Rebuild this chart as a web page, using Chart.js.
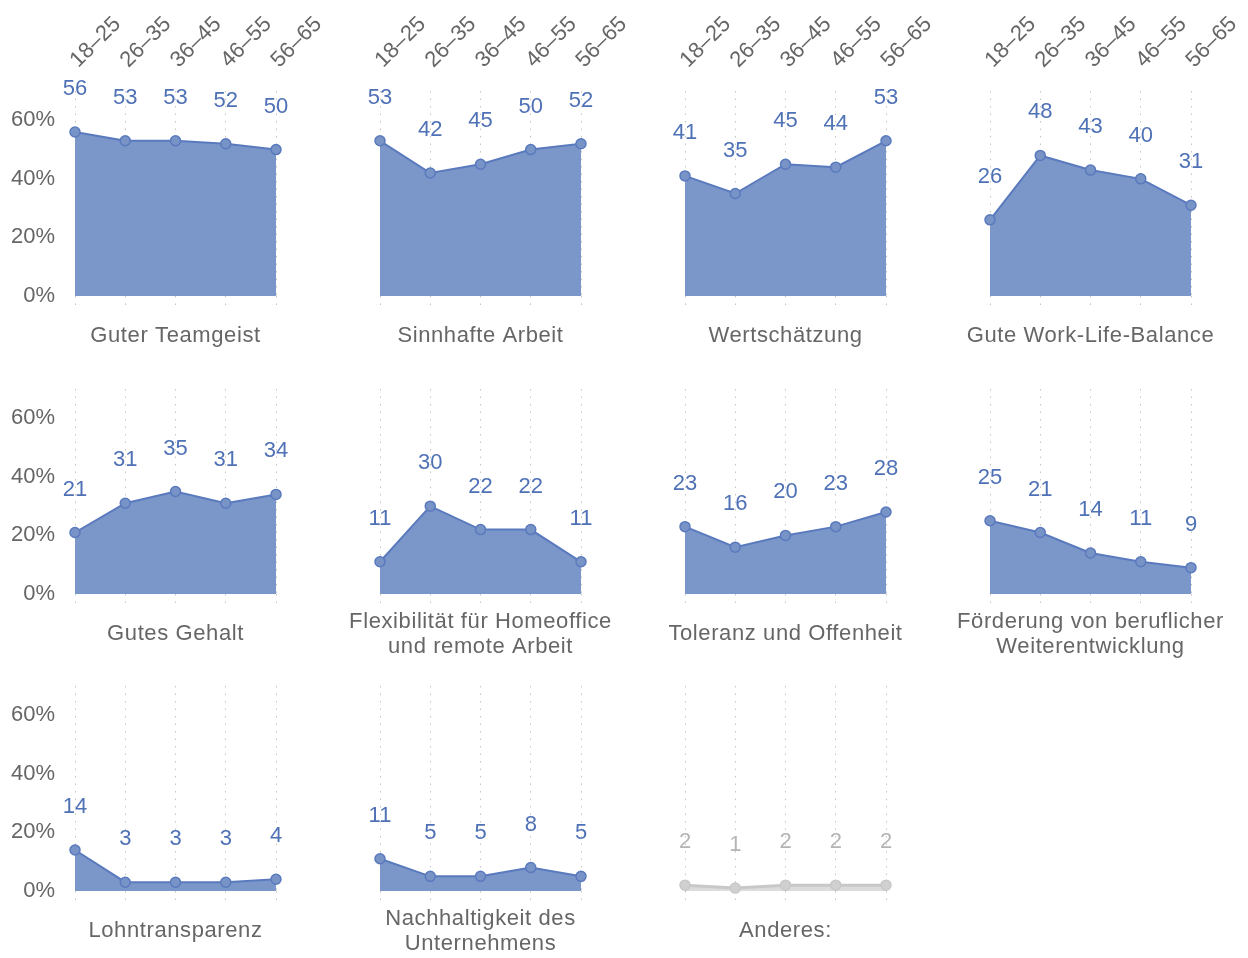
<!DOCTYPE html>
<html lang="de">
<head>
<meta charset="utf-8">
<title>Was ist dir bei einem Arbeitgeber wichtig? – nach Alter</title>
<script src="https://cdn.jsdelivr.net/npm/chart.js@4.4.1/dist/chart.umd.min.js"></script>
<style>
  html, body { margin: 0; padding: 0; background: #fff; }
  #grid { position: relative; width: 1248px; height: 958px; overflow: hidden; }
  .panel { position: absolute; }
</style>
</head>
<body>
<div id="grid"></div>
<script>
// Daten (Prozent je Altersgruppe)
const altersgruppen = ["18–25", "26–35", "36–45", "46–55", "56–65"];
const yTicks = [0, 20, 40, 60];

const themen = [
    "Guter Teamgeist",
    "Sinnhafte Arbeit",
    "Wertschätzung",
    "Gute Work-Life-Balance",
    "Gutes Gehalt",
    "Flexibilität für Homeoffice\nund remote Arbeit",
    "Toleranz und Offenheit",
    "Förderung von beruflicher\nWeiterentwicklung",
    "Lohntransparenz",
    "Nachhaltigkeit des\nUnternehmens",
    "Anderes:",
];

const guterTeamgeist = [56, 53, 53, 52, 50];
const sinnhafteArbeit = [53, 42, 45, 50, 52];
const wertschaetzung = [41, 35, 45, 44, 53];
const workLifeBalance = [26, 48, 43, 40, 31];
const gutesGehalt = [21, 31, 35, 31, 34];
const homeoffice = [11, 30, 22, 22, 11];
const toleranz = [23, 16, 20, 23, 28];
const weiterentwicklung = [25, 21, 14, 11, 9];
const lohntransparenz = [14, 3, 3, 3, 4];
const nachhaltigkeit = [11, 5, 5, 8, 5];
const anderes = [2, 1, 2, 2, 2];

const werte = [
    guterTeamgeist, sinnhafteArbeit, wertschaetzung, workLifeBalance,
    gutesGehalt, homeoffice, toleranz, weiterentwicklung,
    lohntransparenz, nachhaltigkeit, anderes,
];

const FONT = "'Liberation Sans', Arial, sans-serif";
const grau = "#666666";
const blau = { linie: "#5a7abe", flaeche: "#7b96c8", punkt: "#7893c6", text: "#4f71b6" };
const hell = { linie: "#c8c8c8", flaeche: "#dcdcdc", punkt: "#d0d0d0", text: "#b4b4b4" };

const PANEL_STEP = 305;   // Abstand der Spalten
const CANVAS_W = 370;     // breiter als die Spalte, damit Texte nicht abgeschnitten werden
const CANVAS_H = 363;
const rowTops = [0, 298, 595];

// Beschriftungen: Werte, Kategorie unten, Altersgruppen oben
const panelLabels = {
    id: "panelLabels",
    afterDatasetsDraw(chart, args, opts) {
        const ctx = chart.ctx;
        const area = chart.chartArea;
        const meta = chart.getDatasetMeta(0);
        const data = chart.data.datasets[0].data;
        ctx.save();
        ctx.font = "22px " + FONT;
        ctx.textAlign = "center";
        ctx.textBaseline = "middle";

        ctx.fillStyle = opts.farbe;
        meta.data.forEach((pt, i) => {
            ctx.fillText(String(data[i]), pt.x, pt.y - 43);
        });

        ctx.fillStyle = grau;
        ctx.letterSpacing = "0.6px";
        const zeilen = opts.titel.split("\n");
        const cx = (area.left + area.right) / 2;
        if (zeilen.length === 1) {
            ctx.fillText(zeilen[0], cx, area.bottom + 40);
        } else {
            zeilen.forEach((z, k) => ctx.fillText(z, cx, area.bottom + 28 + k * 25));
        }

        if (opts.kopf) {
            ctx.textAlign = "left";
            ctx.letterSpacing = "0px";
            const xScale = chart.scales.x;
            chart.data.labels.forEach((lab, i) => {
                const x = xScale.getPixelForValue(i);
                ctx.save();
                ctx.translate(x - 1, 64);
                ctx.rotate(-Math.PI / 4);
                ctx.fillText(lab, 0, 0);
                ctx.restore();
            });
        }
        ctx.restore();
    },
};

function createPanel(i) {
    const col = i % 4;
    const row = Math.floor(i / 4);
    const farben = i === 10 ? hell : blau;

    const canvas = document.createElement("canvas");
    canvas.className = "panel";
    canvas.width = CANVAS_W;
    canvas.height = CANVAS_H;
    canvas.style.left = col * PANEL_STEP + "px";
    canvas.style.top = rowTops[row] + "px";
    document.getElementById("grid").appendChild(canvas);

    new Chart(canvas.getContext("2d"), {
        type: "line",
        data: {
            labels: altersgruppen,
            datasets: [
                {
                    data: werte[i],
                    borderColor: farben.linie,
                    borderWidth: i === 10 ? 3 : 2,
                    backgroundColor: farben.flaeche,
                    fill: "origin",
                    tension: 0,
                    pointRadius: 5,
                    pointBackgroundColor: farben.punkt,
                    pointBorderColor: farben.linie,
                    pointBorderWidth: 1.5,
                    clip: false,
                },
            ],
        },
        options: {
            responsive: false,
            animation: false,
            events: [],
            layout: { padding: { top: 91, right: CANVAS_W - 276, left: 0, bottom: 0 } },
            plugins: {
                legend: { display: false },
                tooltip: { enabled: false },
                panelLabels: { titel: themen[i], farbe: farben.text, kopf: row === 0 },
            },
            scales: {
                x: {
                    type: "category",
                    offset: false,
                    grid: {
                        display: true,
                        color: "#c4c4c4",
                        lineWidth: 1,
                        drawTicks: true,
                        tickLength: 9,
                        tickColor: "#c4c4c4",
                        tickBorderDash: [1.5, 6],
                    },
                    // in v4 steuert border.dash die Strichelung der Gitterlinien
                    border: { display: false, dash: [1.5, 6] },
                    ticks: { display: false },
                    afterFit: (s) => { s.height = CANVAS_H - 296; },
                },
                y: {
                    min: 0,
                    max: 70,
                    afterBuildTicks: (s) => { s.ticks = yTicks.map((v) => ({ value: v })); },
                    grid: { display: false, drawTicks: false },
                    border: { display: false },
                    ticks: {
                        display: col === 0,
                        padding: 20,
                        color: grau,
                        font: { size: 22, family: FONT },
                        callback: (v) => v + "%",
                    },
                    afterFit: (s) => { s.width = 75; },
                },
            },
        },
        plugins: [panelLabels],
    });
}

themen.forEach((t, i) => createPanel(i));
</script>
</body>
</html>
